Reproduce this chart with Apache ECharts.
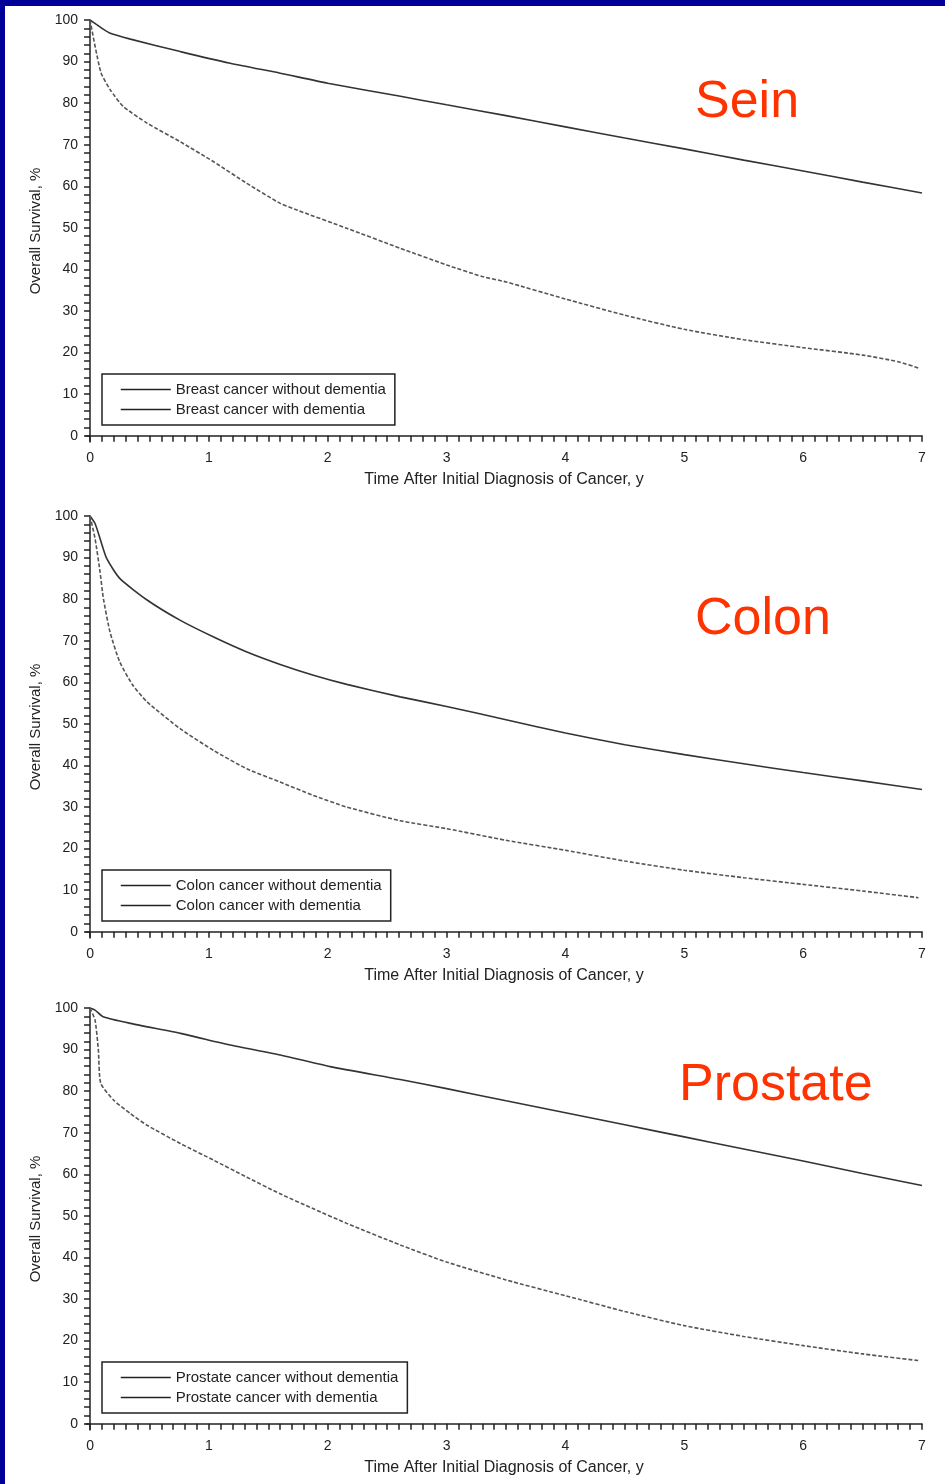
<!DOCTYPE html>
<html>
<head>
<meta charset="utf-8">
<script src="https://cdn.jsdelivr.net/npm/echarts@6/dist/echarts.min.js"></script>
<style>
  html, body { margin: 0; padding: 0; background: #fff; }
  #wrap { position: relative; width: 945px; height: 1484px; overflow: hidden; }
  #chart { position: absolute; left: 0; top: 0; width: 945px; height: 1484px; }
  /* blue slide frame */
  .frame-top { position: absolute; left: 0; top: 0; width: 945px; height: 6px; background: #000099; }
  .frame-left { position: absolute; left: 0; top: 0; width: 5px; height: 1484px; background: #000099; }
</style>
</head>
<body>
<div id="wrap">
  <div id="chart"></div>
  <div class="frame-top"></div>
  <div class="frame-left"></div>
</div>
<script>
// panel titles and legend names
const panelTitles = ['Sein', 'Colon', 'Prostate'];
const seriesNames = [
    ['Breast cancer without dementia', 'Breast cancer with dementia'],
    ['Colon cancer without dementia', 'Colon cancer with dementia'],
    ['Prostate cancer without dementia', 'Prostate cancer with dementia']
];

// axis labels
const xLabels = [0, 1, 2, 3, 4, 5, 6, 7];
const yLabels = [0, 10, 20, 30, 40, 50, 60, 70, 80, 90, 100];

// curves: [years, survival %]
const seinWithout = [[0, 100], [0.05, 99], [0.1, 98], [0.17, 96.8], [0.34, 95.4], [0.76, 92.4], [1.18, 89.6], [1.6, 87.2], [2.0, 84.8], [2.6, 81.7], [3.0, 79.6], [3.5, 77.0], [4.0, 74.3], [4.5, 71.6], [5.0, 69.0], [5.5, 66.3], [6.0, 63.7], [6.5, 61.0], [7.0, 58.4]];
const seinWith = [[0, 100], [0.09, 87.5], [0.17, 83.2], [0.28, 79.2], [0.48, 75.2], [0.76, 70.7], [1.04, 65.9], [1.32, 60.7], [1.6, 55.9], [1.74, 54.3], [2.16, 49.9], [2.61, 45.1], [3.0, 41.1], [3.3, 38.3], [3.5, 37.0], [4.0, 32.9], [4.5, 29.0], [5.0, 25.6], [5.5, 23.1], [6.0, 21.2], [6.5, 19.4], [6.8, 17.8], [6.97, 16.3]];
const colonWithout = [[0, 100], [0.042, 98.2], [0.084, 94.6], [0.14, 89.8], [0.25, 85], [0.48, 79.8], [0.76, 74.9], [1.04, 70.9], [1.32, 67.3], [1.6, 64.3], [1.88, 61.7], [2.16, 59.5], [2.61, 56.5], [3, 54.2], [3.5, 51.0], [4, 47.8], [4.5, 45], [5, 42.6], [5.5, 40.4], [6, 38.3], [6.5, 36.3], [7, 34.2]];
const colonWith = [[0, 100], [0.042, 94.6], [0.084, 86.6], [0.112, 80.2], [0.168, 72.1], [0.25, 64.9], [0.36, 59.3], [0.48, 55.3], [0.76, 48.8], [1.04, 43.6], [1.32, 39.2], [1.6, 36], [1.88, 32.8], [2.16, 30], [2.61, 26.7], [3, 24.8], [3.5, 22], [4, 19.6], [4.5, 17], [5, 14.8], [5.5, 13], [6, 11.4], [6.5, 9.8], [6.97, 8.2]];
const prostateWithout = [[0, 100], [0.042, 99.5], [0.11, 97.9], [0.34, 96.3], [0.76, 93.9], [1.18, 91.1], [1.6, 88.7], [2.02, 85.9], [2.61, 82.8], [3, 80.6], [3.5, 77.7], [4, 74.8], [4.5, 71.9], [5, 69], [5.5, 66.1], [6, 63.2], [6.5, 60.2], [7, 57.3]];
const prostateWith = [[0, 100], [0.042, 97.1], [0.07, 89.9], [0.09, 81.9], [0.2, 77.8], [0.34, 74.6], [0.48, 71.8], [0.76, 67.4], [1.04, 63.4], [1.32, 59.3], [1.6, 55.3], [1.88, 51.7], [2.16, 48.2], [2.61, 43.0], [3, 38.9], [3.5, 34.6], [4, 30.8], [4.5, 27], [5, 23.6], [5.5, 21], [6, 18.8], [6.5, 16.8], [6.97, 15.2]];

const panelData = [[seinWithout, seinWith], [colonWithout, colonWith], [prostateWithout, prostateWith]];

// minor ticks: every 0.1 y on x, every 2 % on y
const xTicks = [];
for (let i = 0; i <= 70; i++) xTicks.push(i / 10);
const yTicks = [];
for (let i = 0; i <= 100; i += 2) yTicks.push(i);

const panelTops = [20, 516, 1008];
const titlePos = [[695, 77], [695, 594], [679, 1060]];
const font = 'Liberation Sans, Arial, sans-serif';
const ink = '#222';

const chart = echarts.init(document.getElementById('chart'));

const option = {
    animation: false,
    backgroundColor: 'transparent',
    title: [],
    legend: [],
    grid: [],
    xAxis: [],
    yAxis: [],
    series: []
};

panelTops.forEach(function (top, i) {
    option.grid.push({ left: 86, right: 23, top: top, height: 422 });

    option.title.push({
        text: panelTitles[i],
        left: titlePos[i][0],
        top: titlePos[i][1],
        padding: 0,
        textStyle: { color: '#FF3300', fontSize: 52, fontWeight: 'normal', fontFamily: font }
    });

    option.xAxis.push({
        type: 'value',
        gridIndex: i,
        min: -0.034,
        max: 7,
        name: 'Time After Initial Diagnosis of Cancer, y',
        nameLocation: 'middle',
        nameGap: 30,
        nameTextStyle: { color: ink, fontSize: 16, fontFamily: font },
        axisLine: { lineStyle: { color: ink, width: 1.5 } },
        axisTick: { customValues: xTicks, length: 6, lineStyle: { color: ink, width: 1.5 } },
        axisLabel: { customValues: xLabels, margin: 9, color: ink, fontSize: 14, fontFamily: font },
        splitLine: { show: false }
    });

    option.yAxis.push({
        type: 'value',
        gridIndex: i,
        min: -1.5,
        max: 100,
        name: 'Overall Survival, %',
        nameLocation: 'middle',
        nameGap: 43,
        nameTextStyle: { color: ink, fontSize: 15, fontFamily: font },
        axisLine: { show: true, lineStyle: { color: ink, width: 1.5 } },
        axisTick: { show: true, customValues: yTicks, length: 6, lineStyle: { color: ink, width: 1.5 } },
        axisLabel: { customValues: yLabels, margin: 8, color: ink, fontSize: 14, fontFamily: font },
        splitLine: { show: false }
    });

    option.legend.push({
        orient: 'vertical',
        left: 102,
        top: top + 354,
        data: seriesNames[i],
        itemWidth: 50,
        itemHeight: 14,
        itemGap: 5,
        padding: [8, 9, 8, 18],
        borderColor: ink,
        borderWidth: 1.5,
        selectedMode: false,
        textStyle: { color: ink, fontSize: 15, fontFamily: font },
        itemStyle: { opacity: 0 },
        lineStyle: { type: 'solid', color: ink, width: 1.5 }
    });

    panelData[i].forEach(function (d, k) {
        option.series.push({
            name: seriesNames[i][k],
            type: 'line',
            xAxisIndex: i,
            yAxisIndex: i,
            data: d,
            symbol: 'none',
            smooth: 0.2,
            silent: true,
            itemStyle: { color: '#333' },
            lineStyle: k === 0
                ? { color: '#333', width: 1.6, type: 'solid' }
                : { color: '#555', width: 1.6, type: [4, 2] }
        });
    });
});

chart.setOption(option);
</script>
</body>
</html>
